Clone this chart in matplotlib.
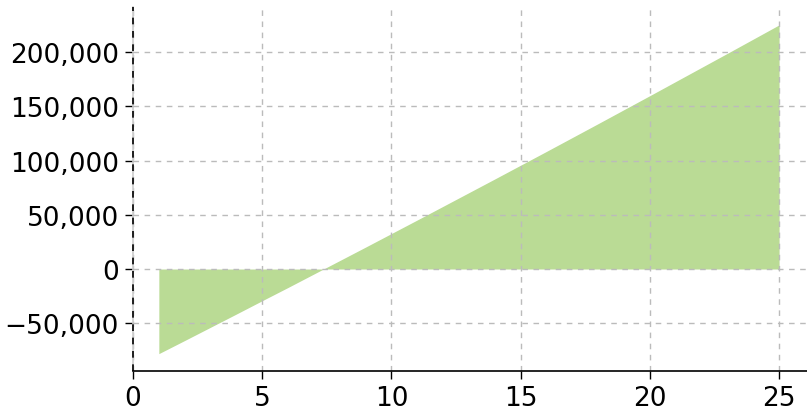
import matplotlib
matplotlib.use("Agg")
import matplotlib.pyplot as plt
from matplotlib.ticker import FuncFormatter

years = list(range(1, 26))
values = [-78000, -65900, -53700, -41500, -29200, -17000, -4600, 7800, 20200,
          32700, 45200, 57800, 70400, 83000, 95700, 108400, 121200, 134000,
          146900, 159800, 172800, 185800, 198800, 211900, 225000]
xticks = [0, 5, 10, 15, 20, 25]
yticks = [-50000, 0, 50000, 100000, 150000, 200000]

plt.rcParams['font.family'] = ['DejaVu Sans']
fig = plt.figure(figsize=(8.07, 4.14), dpi=100)
ax = fig.add_axes([133/807, 1-372/414, 1-133/807, (372-8)/414])

ax.fill_between(years, values, 0, color='#badb95', linewidth=0, zorder=1)

ax.set_xlim(0, 26.08)
ax.set_ylim(-94000, 241500)
ax.set_xticks(xticks)
ax.set_yticks(yticks)
ax.yaxis.set_major_formatter(FuncFormatter(lambda v, p: f"{int(v):,}".replace('-', '\u2212')))

ax.grid(True, color='#bbbbbb', linestyle=(0, (4, 4)), linewidth=1, zorder=1.5)

for s in ['top', 'right']:
    ax.spines[s].set_visible(False)
ax.spines['left'].set_color('#cccccc')
ax.spines['left'].set_linewidth(1.2)
ax.axvline(0, color='black', linestyle=(0, (4, 4)), linewidth=1.2, zorder=3, clip_on=False)
ax.spines['bottom'].set_color('black')
ax.spines['bottom'].set_linewidth(1.2)

ax.tick_params(axis='both', labelsize=19, length=6, width=1, color='black', pad=4)

fig.savefig('out.png', dpi=100)
